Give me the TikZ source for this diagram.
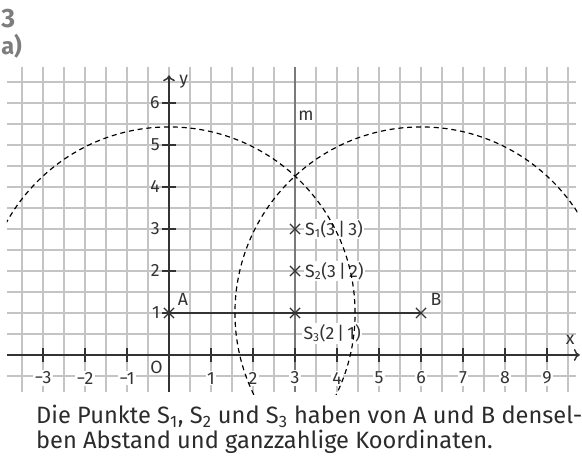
\documentclass[tikz,border=0pt]{standalone}
\usepackage{fontspec}
\setmainfont{Fira Sans}
\usetikzlibrary{arrows.meta}
\definecolor{gridc}{HTML}{C4C4C4}
\definecolor{axc}{HTML}{333333}
\definecolor{mc}{HTML}{7A7A7A}
\definecolor{headc}{HTML}{7D7D7D}
\definecolor{txtc}{HTML}{2B2B2B}
\newcommand{\sub}[1]{\textsubscript{#1}}
\tikzset{
  gridline/.style={draw=gridc, line width=0.95pt},
  axis/.style={draw=axc, line width=1pt, -{To[length=4pt,width=8pt]}},
  tickmark/.style={draw=axc, line width=1pt},
  ticklab/.style={font=\fontsize{12}{14}\selectfont, text=axc, fill=white, inner sep=1pt},
  ptlab/.style={font=\fontsize{12}{14}\selectfont, text=axc, inner sep=1pt},
  slab/.style={font=\fontsize{12}{14}\selectfont, text=axc, fill=white, inner sep=1pt, anchor=west},
  crossmark/.style={draw=axc, line width=0.9pt},
  circ/.style={draw=black, line width=0.8pt, dash pattern=on 3.4pt off 2.6pt},
}
\begin{document}
\begin{tikzpicture}[x=1cm,y=1cm]
\useasboundingbox (-4.024,-2.429) rectangle (9.833,8.452);
% grid
\foreach \yy in {-0.5,0.5,1.5,2.5,3.5,4.5,5.5,6.5,1,2,3,4,5,6}
  \draw[gridline] (-3.86,\yy) -- (9.7,\yy);
\foreach \xx in {-3.5,-3,...,9.5}
  \draw[gridline] (\xx,-0.88) -- (\xx,6.86);
% m line
\coordinate (mtop) at (3,6.86);
\coordinate (mbot) at (3,-0.88);
\draw[draw=mc, line width=1.4pt] (mbot) -- (mtop);
\node[ptlab] (mlab) at (3.26,5.7) {m};
% axes
\coordinate (xs) at (-3.86,0);
\coordinate (xe) at (9.78,0);
\coordinate (ys) at (0,-0.88);
\coordinate (ye) at (0,6.66);
\draw[axis] (xs) -- (xe);
\draw[axis] (ys) -- (ye);
\node[ptlab] (xlab) at (9.55,0.36) {x};
\node[ptlab] (ylab) at (0.35,6.5) {y};
\node[ptlab] (olab) at (-0.3,-0.3) {O};
% ticks
\foreach \k in {-3,-2,-1,1,2,...,9}
  \draw[tickmark] (\k,-0.17) -- (\k,0.17);
\foreach \k in {1,...,6}
  \draw[tickmark] (-0.17,\k) -- (0.17,\k);
\foreach \k/\t in {-3/−3,-2/−2,-1/−1,1/1,2/2,3/3,4/4,5/5,6/6,7/7,8/8,9/9}
  \node[ticklab] (xl\k) at (\k,-0.55) {\t};
\foreach \k in {1,...,6}
  \node[ticklab, anchor=east, fill=none] (yl\k) at (-0.18,\k) {\k};
% points
\coordinate (A) at (0,1);
\coordinate (B) at (6,1);
\coordinate (S1) at (3,3);
\coordinate (S2) at (3,2);
\coordinate (S3) at (3,1);
\draw[draw=axc, line width=1pt] (A) -- (B);
\foreach \p in {A,B,S1,S2,S3}
  \draw[crossmark] ([shift={(-0.12,-0.12)}]\p) -- ([shift={(0.12,0.12)}]\p)
                   ([shift={(-0.12,0.12)}]\p) -- ([shift={(0.12,-0.12)}]\p);
\node[ptlab] (Alab) at (0.33,1.32) {A};
\node[ptlab] (Blab) at (6.36,1.32) {B};
\node[slab] (S1lab) at (3.2,3) {S\sub{1}(3\,|\,3)};
\node[slab] (S2lab) at (3.2,2) {S\sub{2}(3\,|\,2)};
\node[slab] (S3lab) at (3.16,0.52) {S\sub{3}(2\,|\,1)};
% circles
\begin{scope}
  \clip (-3.86,-0.95) rectangle (9.72,6.9);
  \draw[circ] (A) circle (4.43);
  \draw[circ] (B) circle (4.43);
\end{scope}
% headings
\node[font=\bfseries\fontsize{18}{20}\selectfont, text=headc, anchor=west, inner sep=0pt] (h3) at (-4.0,8.02) {3};
\node[font=\bfseries\fontsize{16}{18}\selectfont, text=headc, anchor=west, inner sep=0pt] (ha) at (-4.0,7.36) {a)};
% caption
\node[anchor=north west, align=left, inner sep=0pt, text=txtc,
      font=\fontsize{16}{16.6}\selectfont] (cap) at (-3.17,-1.19)
  {Die Punkte S\sub{1}, S\sub{2} und S\sub{3} haben von A und B densel-\\ben Abstand und ganzzahlige Koordinaten.};
\end{tikzpicture}
\end{document}
